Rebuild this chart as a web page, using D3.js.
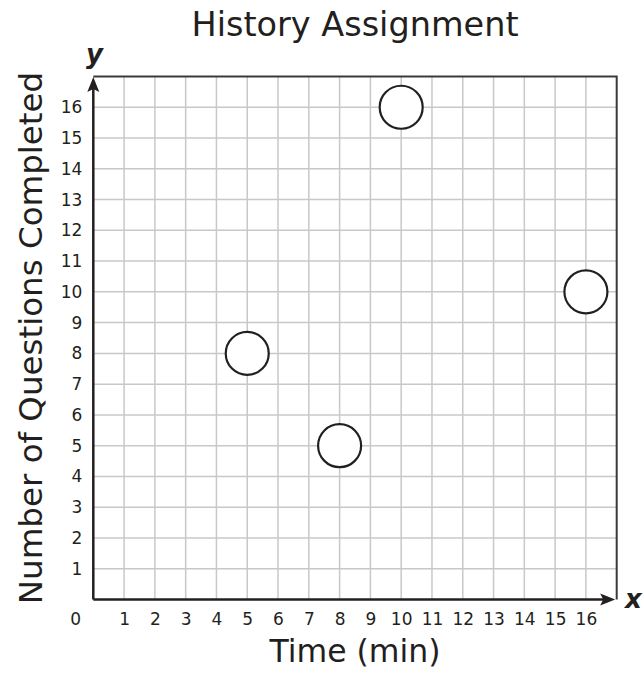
<!DOCTYPE html>
<html>
<head>
<meta charset="utf-8">
<script src="https://cdn.jsdelivr.net/npm/d3@7"></script>
<style>
  body { margin: 0; background: #fff; }
  text { font-family: "DejaVu Sans", Verdana, sans-serif; fill: #231f20; }
</style>
</head>
<body>
<div id="chart"></div>
<script>
// data
var times = [5, 8, 10, 16];
var questions = [8, 5, 16, 10];
var xTicks = [1, 2, 3, 4, 5, 6, 7, 8, 9, 10, 11, 12, 13, 14, 15, 16];
var yTicks = [1, 2, 3, 4, 5, 6, 7, 8, 9, 10, 11, 12, 13, 14, 15, 16];
var gridMax = 17;

var W = 644, H = 674;
var svg = d3.select("#chart").append("svg")
    .attr("width", W)
    .attr("height", H);

var x = d3.scaleLinear().domain([0, gridMax]).range([93.3, 616.7]);
var y = d3.scaleLinear().domain([0, gridMax]).range([599.5, 76.5]);
var ink = "#231f20";

// grid
var grid = svg.append("g");
grid.selectAll("line.v")
    .data(xTicks)
    .enter().append("line")
    .attr("x1", function(d){ return x(d); })
    .attr("x2", function(d){ return x(d); })
    .attr("y1", y(0))
    .attr("y2", y(gridMax))
    .attr("stroke", "#c8c8c8")
    .attr("stroke-width", 1.5);
grid.selectAll("line.h")
    .data(yTicks)
    .enter().append("line")
    .attr("y1", function(d){ return y(d); })
    .attr("y2", function(d){ return y(d); })
    .attr("x1", x(0))
    .attr("x2", x(gridMax))
    .attr("stroke", "#c8c8c8")
    .attr("stroke-width", 1.5);

// top and right frame
svg.append("path")
    .attr("d", "M" + x(0) + "," + y(gridMax) + "H" + x(gridMax) + "V" + y(0))
    .attr("fill", "none")
    .attr("stroke", "#3a3a3a")
    .attr("stroke-width", 2);

// axes with arrows
svg.append("line")
    .attr("x1", x(0)).attr("x2", x(0))
    .attr("y1", y(0)).attr("y2", y(gridMax) + 8)
    .attr("stroke", ink).attr("stroke-width", 2.5);
svg.append("line")
    .attr("x1", x(0)).attr("x2", x(gridMax) - 8)
    .attr("y1", y(0)).attr("y2", y(0))
    .attr("stroke", ink).attr("stroke-width", 2.5);

var ax = x(0), ay = y(gridMax) + 0.5;
svg.append("path")
    .attr("d", "M" + ax + "," + ay + "L" + (ax + 6) + "," + (ay + 15) +
        "L" + ax + "," + (ay + 12) + "L" + (ax - 6) + "," + (ay + 15) + "Z")
    .attr("fill", ink);
var bx = x(gridMax) - 1.5, by = y(0);
svg.append("path")
    .attr("d", "M" + bx + "," + by + "L" + (bx - 15) + "," + (by - 6) +
        "L" + (bx - 12) + "," + by + "L" + (bx - 15) + "," + (by + 6) + "Z")
    .attr("fill", ink);

// tick labels
var yAxis = svg.append("g")
    .attr("transform", "translate(" + x(0) + ",0)")
    .call(d3.axisLeft(y).tickValues(yTicks).tickSize(0).tickPadding(11));
var xAxis = svg.append("g")
    .attr("transform", "translate(0," + y(0) + ")")
    .call(d3.axisBottom(x).tickValues(xTicks).tickSize(0).tickPadding(13));
[yAxis, xAxis].forEach(function(g){
    g.select(".domain").remove();
    g.selectAll("text")
        .attr("fill", ink)
        .style("font-size", "17px")
        .style("font-family", "'DejaVu Sans', Verdana, sans-serif");
});
svg.append("text")
    .attr("x", 75.7)
    .attr("y", 625)
    .attr("text-anchor", "middle")
    .style("font-size", "17px")
    .text("0");

// axis letters
svg.append("text")
    .attr("x", 86)
    .attr("y", 63)
    .style("font-size", "26px")
    .style("font-weight", "bold")
    .style("font-style", "italic")
    .text("y");
svg.append("text")
    .attr("x", 625)
    .attr("y", 608)
    .style("font-size", "26px")
    .style("font-weight", "bold")
    .style("font-style", "italic")
    .text("x");

// titles
svg.append("text")
    .attr("x", (x(0) + x(gridMax)) / 2)
    .attr("y", 36)
    .attr("text-anchor", "middle")
    .style("font-size", "33.5px")
    .text("History Assignment");
svg.append("text")
    .attr("x", (x(0) + x(gridMax)) / 2)
    .attr("y", 662)
    .attr("text-anchor", "middle")
    .style("font-size", "31.5px")
    .text("Time (min)");
svg.append("text")
    .attr("transform", "translate(42," + ((y(0) + y(gridMax)) / 2) + ") rotate(-90)")
    .attr("text-anchor", "middle")
    .style("font-size", "32.5px")
    .text("Number of Questions Completed");

// points
svg.selectAll("circle.pt")
    .data(times)
    .enter().append("circle")
    .attr("cx", function(d){ return x(d); })
    .attr("cy", function(d, i){ return y(questions[i]); })
    .attr("r", 21.5)
    .attr("fill", "#fff")
    .attr("stroke", ink)
    .attr("stroke-width", 2.2);
</script>
</body>
</html>
